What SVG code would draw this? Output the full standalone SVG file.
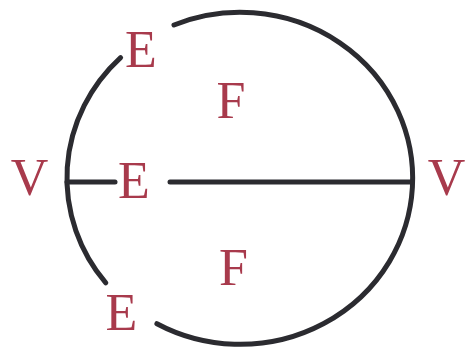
<svg xmlns="http://www.w3.org/2000/svg" width="467" height="350" viewBox="0 0 467 350">
<style>
.lbl{font-family:"Liberation Serif","Times New Roman",serif;font-size:52px;fill:#a83a4c;text-anchor:middle}
.ln{fill:none;stroke:#2b2b30;stroke-width:5;stroke-linecap:round}
</style>
<rect width="467" height="350" fill="#ffffff"/>
<g id="connectors">
<path class="ln" d="M174,25 A172.5,166 0 1 1 156.9,323.7"/>
<path class="ln" d="M120.6,57.6 A172.5,166 0 0 0 105.8,282.9"/>
<line class="ln" x1="67" y1="182" x2="115" y2="182"/>
<line class="ln" x1="170" y1="182" x2="412" y2="182"/>
</g>
<g id="E-top"><text class="lbl" x="141" y="67">E</text></g>
<g id="F-top"><text class="lbl" x="231" y="118">F</text></g>
<g id="V-left"><text class="lbl" x="29.5" y="195">V</text></g>
<g id="E-mid"><text class="lbl" x="134" y="198">E</text></g>
<g id="V-right"><text class="lbl" x="446.5" y="195">V</text></g>
<g id="F-bottom"><text class="lbl" x="233.5" y="285">F</text></g>
<g id="E-bottom"><text class="lbl" x="121.5" y="330">E</text></g>
</svg>
